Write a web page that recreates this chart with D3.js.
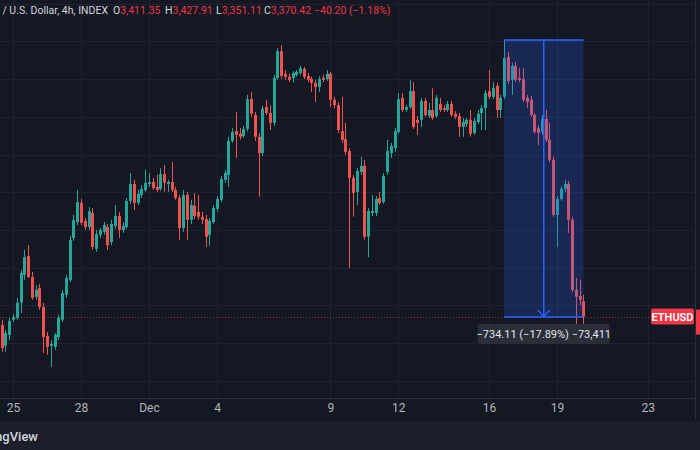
<!DOCTYPE html>
<html>
<head>
<meta charset="utf-8">
<script src="https://cdn.jsdelivr.net/npm/d3@7"></script>
<style>
  html, body { margin: 0; padding: 0; background: #141823; }
  svg { display: block; font-family: Roboto, "Noto Sans", sans-serif; }
</style>
</head>
<body>
<svg id="chart"></svg>
<script>
// ETHUSD 4h candles, first bar Nov 24 12:00, one bar every 4 hours
const firstBar = new Date(2024, 10, 24, 12);

const opens = [
  3348,3293,3322,3362,3367,3407,3481,3531,3475,3423,
  3446,3396,3319,3293,3290,3316,3362,3428,3467,3579,
  3621,3672,3624,3608,3645,3550,3587,3595,3608,3568,
  3611,3637,3600,3608,3677,3722,3672,3693,3706,3722,
  3727,3714,3709,3748,3722,3727,3706,3685,3605,3693,
  3627,3664,3648,3635,3629,3587,3621,3656,3680,3733,
  3746,3836,3862,3855,3849,3868,3947,3905,3847,3804,
  3926,3910,3884,4003,4074,4014,4006,4003,4011,4016,
  4027,4008,4000,3990,3979,4003,4000,4014,3945,3931,
  3862,3841,3809,3738,3701,3754,3770,3582,3645,3645,
  3685,3674,3754,3804,3817,3860,3950,3918,3926,3968,
  3892,3892,3942,3902,3918,3902,3934,3923,3918,3934,
  3908,3902,3873,3881,3892,3857,3886,3910,3923,3968,
  3953,3982,3918,3953,4059,3998,4035,4003,4000,3950,
  3945,3905,3870,3860,3894,3839,3786,3640,3682,3709,
  3722,3627,3441,3425,3411.35
];
const highs = [
  3362,3335,3367,3377,3420,3494,3547,3560,3489,3454,
  3457,3407,3330,3308,3327,3375,3441,3481,3584,3640,
  3706,3682,3632,3661,3658,3600,3605,3621,3616,3627,
  3666,3648,3621,3685,3751,3733,3706,3719,3759,3751,
  3738,3746,3764,3772,3733,3780,3714,3693,3706,3701,
  3680,3698,3693,3648,3640,3632,3666,3690,3743,3759,
  3847,3870,3913,3870,3876,3958,3966,3913,3857,3929,
  3945,3931,4011,4082,4090,4024,4014,4021,4024,4035,
  4032,4016,4006,3998,4008,4011,4024,4019,3953,3939,
  3953,3884,3817,3746,3764,3794,3786,3658,3693,3690,
  3701,3751,3839,3831,3870,3963,3963,3931,3998,3992,
  3902,3950,3950,3937,3976,3958,3950,3931,3942,3942,
  3915,3910,3897,3897,3918,3897,3918,3931,3971,4024,
  3992,3990,3958,4104,4072,4043,4045,4029,4029,3958,
  3955,3910,3878,3905,3918,3884,3794,3690,3717,3733,
  3730,3635,3473,3468,3427.91
];
const lows = [
  3277,3277,3308,3356,3362,3380,3468,3473,3415,3415,
  3388,3274,3269,3237,3282,3308,3356,3420,3462,3571,
  3613,3613,3600,3600,3547,3542,3579,3587,3547,3560,
  3603,3579,3592,3603,3669,3653,3666,3685,3701,3714,
  3706,3701,3703,3701,3701,3701,3680,3574,3595,3574,
  3616,3629,3627,3616,3555,3558,3616,3648,3674,3725,
  3714,3831,3791,3839,3844,3862,3900,3836,3688,3796,
  3905,3865,3876,3998,4000,3998,3992,3990,4006,4011,
  4000,3992,3966,3939,3966,3992,3995,3926,3923,3857,
  3831,3799,3499,3635,3666,3746,3574,3528,3637,3637,
  3666,3669,3746,3791,3807,3855,3913,3913,3921,3868,
  3852,3873,3900,3897,3892,3897,3913,3913,3913,3900,
  3894,3847,3847,3873,3847,3852,3881,3865,3865,3947,
  3947,3897,3897,3947,3987,3958,3992,3992,3939,3923,
  3900,3855,3825,3852,3833,3780,3635,3555,3677,3701,
  3592,3436,3335,3401,3351.11
];
const closes = [
  3287,3327,3359,3369,3407,3486,3528,3475,3420,3441,
  3396,3316,3290,3298,3322,3367,3433,3473,3573,3626,
  3674,3619,3608,3650,3555,3589,3600,3613,3560,3616,
  3637,3600,3611,3677,3722,3672,3696,3709,3725,3727,
  3711,3706,3748,3725,3727,3706,3685,3605,3693,3627,
  3666,3637,3635,3627,3582,3624,3658,3682,3735,3751,
  3836,3860,3852,3847,3868,3947,3908,3847,3804,3921,
  3910,3884,4003,4074,4008,4006,3998,4016,4019,4029,
  4006,3998,3990,3979,4000,3998,4014,3945,3931,3865,
  3839,3807,3738,3698,3756,3770,3582,3650,3650,3682,
  3672,3743,3809,3823,3862,3947,3918,3926,3968,3873,
  3884,3942,3905,3918,3897,3950,3918,3918,3934,3905,
  3900,3873,3886,3892,3855,3889,3908,3923,3963,3953,
  3976,3918,3950,4056,3995,4035,3998,3998,3945,3939,
  3905,3860,3857,3894,3839,3786,3640,3682,3709,3722,
  3627,3441,3423,3415,3370.42
];

const tickDates = [
  new Date(2024, 10, 25), new Date(2024, 10, 28), new Date(2024, 11, 1),
  new Date(2024, 11, 4), new Date(2024, 11, 9), new Date(2024, 11, 12),
  new Date(2024, 11, 16), new Date(2024, 11, 19), new Date(2024, 11, 23)
];
const tickLabels = ["25", "28", "Dec", "4", "9", "12", "16", "19", "23"];
const gridPrices = [3200, 3300, 3400, 3500, 3600, 3700, 3800, 3900, 4000, 4100, 4200];

// measure tool: from the Dec 16 high bar to the last bar
const measure = { from: 133, to: 154, top: 4103.53, bottom: 3369.42, text: "\u2212734.11 (\u221217.89%) \u221273,411" };

const header = {
  name: "Ethereum / U.S. Dollar, 4h, INDEX",
  o: "3,411.35", h: "3,427.91", l: "3,351.11", c: "3,370.42",
  chg: "\u221240.20 (\u22121.18%)"
};

const width = 700, height = 450;
const plotBottom = 398, plotRight = 695;
const up = "#26a69a", down = "#ef5350";

const candles = opens.map((o, i) => ({
  t: d3.timeHour.offset(firstBar, 4 * i),
  o: o, h: highs[i], l: lows[i], c: closes[i]
}));

const svg = d3.select("#chart").attr("width", width).attr("height", height);

const x = d3.scaleTime()
  .domain([new Date(2024, 10, 25), new Date(2024, 11, 19)])
  .range([13, 557]);
const y = d3.scaleLinear().domain([3100, 4200]).range([418.6, 3.6]);

svg.append("rect").attr("width", width).attr("height", height).attr("fill", "#141823");
svg.append("rect").attr("y", 421).attr("width", width).attr("height", 29).attr("fill", "#1b1f2a");

svg.append("defs").append("clipPath").attr("id", "plot")
  .append("rect").attr("width", plotRight).attr("height", plotBottom);

// grid
const grid = svg.append("g").attr("clip-path", "url(#plot)");
grid.selectAll(".hg").data(gridPrices).enter().append("line")
  .attr("x1", 0).attr("x2", plotRight)
  .attr("y1", d => Math.round(y(d)) + 0.5).attr("y2", d => Math.round(y(d)) + 0.5)
  .attr("stroke", "#1f2331");
grid.selectAll(".vg").data(tickDates).enter().append("line")
  .attr("x1", d => Math.round(x(d)) + 0.5).attr("x2", d => Math.round(x(d)) + 0.5)
  .attr("y1", 0).attr("y2", plotBottom)
  .attr("stroke", "#1f2331");

// measure box behind the candles
const mx0 = x(candles[measure.from].t), mx1 = x(candles[measure.to].t);
const my0 = y(measure.top), my1 = y(measure.bottom);
const mg = svg.append("g");
mg.append("rect").attr("x", mx0).attr("y", my0).attr("width", mx1 - mx0).attr("height", my1 - my0)
  .attr("fill", "rgba(41,98,255,0.22)");

// last price dotted line
const lastY = y(closes[closes.length - 1]);
svg.append("line").attr("x1", 0).attr("x2", 651)
  .attr("y1", Math.round(lastY) + 0.5).attr("y2", Math.round(lastY) + 0.5)
  .attr("stroke", "rgba(239,83,80,0.55)").attr("stroke-dasharray", "1,2");

// candles
const cg = svg.append("g").attr("clip-path", "url(#plot)");
const bar = cg.selectAll(".candle").data(candles).enter().append("g");
bar.append("line")
  .attr("x1", d => Math.round(x(d.t)) + 0.5).attr("x2", d => Math.round(x(d.t)) + 0.5)
  .attr("y1", d => y(d.h)).attr("y2", d => y(d.l))
  .attr("stroke", d => d.c >= d.o ? up : down);
bar.append("rect")
  .attr("x", d => Math.round(x(d.t)) - 1)
  .attr("width", 3)
  .attr("y", d => y(Math.max(d.o, d.c)))
  .attr("height", d => Math.max(1, Math.abs(y(d.o) - y(d.c))))
  .attr("fill", d => d.c >= d.o ? up : down);

// measure lines + arrow on top
const mmid = (mx0 + mx1) / 2;
mg.raise();
mg.append("line").attr("x1", mx0).attr("x2", mx1).attr("y1", my0).attr("y2", my0)
  .attr("stroke", "#2962ff").attr("stroke-width", 1.5);
mg.append("line").attr("x1", mx0).attr("x2", mx1).attr("y1", my1).attr("y2", my1)
  .attr("stroke", "#2962ff").attr("stroke-width", 1.5);
mg.append("line").attr("x1", mmid).attr("x2", mmid).attr("y1", my0).attr("y2", my1)
  .attr("stroke", "#2962ff").attr("stroke-width", 1.5);
mg.append("path").attr("d", `M${mmid - 6},${my1 - 7}L${mmid},${my1 - 0.5}L${mmid + 6},${my1 - 7}`)
  .attr("fill", "none").attr("stroke", "#2962ff").attr("stroke-width", 1.5);
mg.append("rect").attr("x", mmid - 66).attr("y", my1 + 7).attr("width", 132).attr("height", 20).attr("rx", 3)
  .attr("fill", "#2a2e39");
mg.append("text").attr("x", mmid).attr("y", my1 + 21).attr("text-anchor", "middle")
  .attr("fill", "#e0e3eb").style("font-size", "11px").text(measure.text);

// time axis
svg.append("line").attr("x1", 0).attr("x2", plotRight).attr("y1", plotBottom + 0.5).attr("y2", plotBottom + 0.5)
  .attr("stroke", "#2a2e39");
const xAxis = d3.axisBottom(x).tickValues(tickDates).tickSize(0).tickPadding(0)
  .tickFormat((d, i) => tickLabels[i]);
const ax = svg.append("g").attr("transform", `translate(0,${plotBottom + 5})`).call(xAxis);
ax.select(".domain").remove();
ax.selectAll("text").attr("fill", "#b2b5be").attr("dy", "0.71em")
  .style("font-size", "12px").style("font-family", "Roboto, sans-serif");

// price scale edge + labels
svg.append("line").attr("x1", plotRight + 0.5).attr("x2", plotRight + 0.5).attr("y1", 0).attr("y2", 420)
  .attr("stroke", "#2a2e39");
svg.append("rect").attr("x", 651).attr("y", lastY - 8).attr("width", 43).attr("height", 16).attr("rx", 2)
  .attr("fill", "#f23645");
svg.append("text").attr("x", 672.5).attr("y", lastY + 4).attr("text-anchor", "middle")
  .attr("fill", "#fff").style("font-size", "11px").style("font-weight", 600).text("ETHUSD");
svg.append("rect").attr("x", 696).attr("y", lastY - 7).attr("width", 6).attr("height", 25)
  .attr("fill", "#f23645");

// header line
const hdr = svg.append("g").style("font-size", "10.5px");
hdr.append("text").attr("x", 108).attr("y", 14).attr("text-anchor", "end")
  .attr("fill", "#d1d4dc").text(header.name);
[["O", header.o, 113], ["H", header.h, 165], ["L", header.l, 216], ["C", header.c, 264]].forEach(([k, v, px]) => {
  const t = hdr.append("text").attr("x", px).attr("y", 14).attr("fill", "#d1d4dc");
  t.append("tspan").text(k);
  t.append("tspan").attr("fill", "#f23645").text(v);
});
hdr.append("text").attr("x", 314).attr("y", 14).attr("fill", "#f23645").text(header.chg);

// branding
svg.append("text").attr("x", 38).attr("y", 441).attr("text-anchor", "end")
  .attr("fill", "#d1d4dc").style("font-size", "13px").style("font-weight", 500).text("TradingView");
</script>
</body>
</html>
